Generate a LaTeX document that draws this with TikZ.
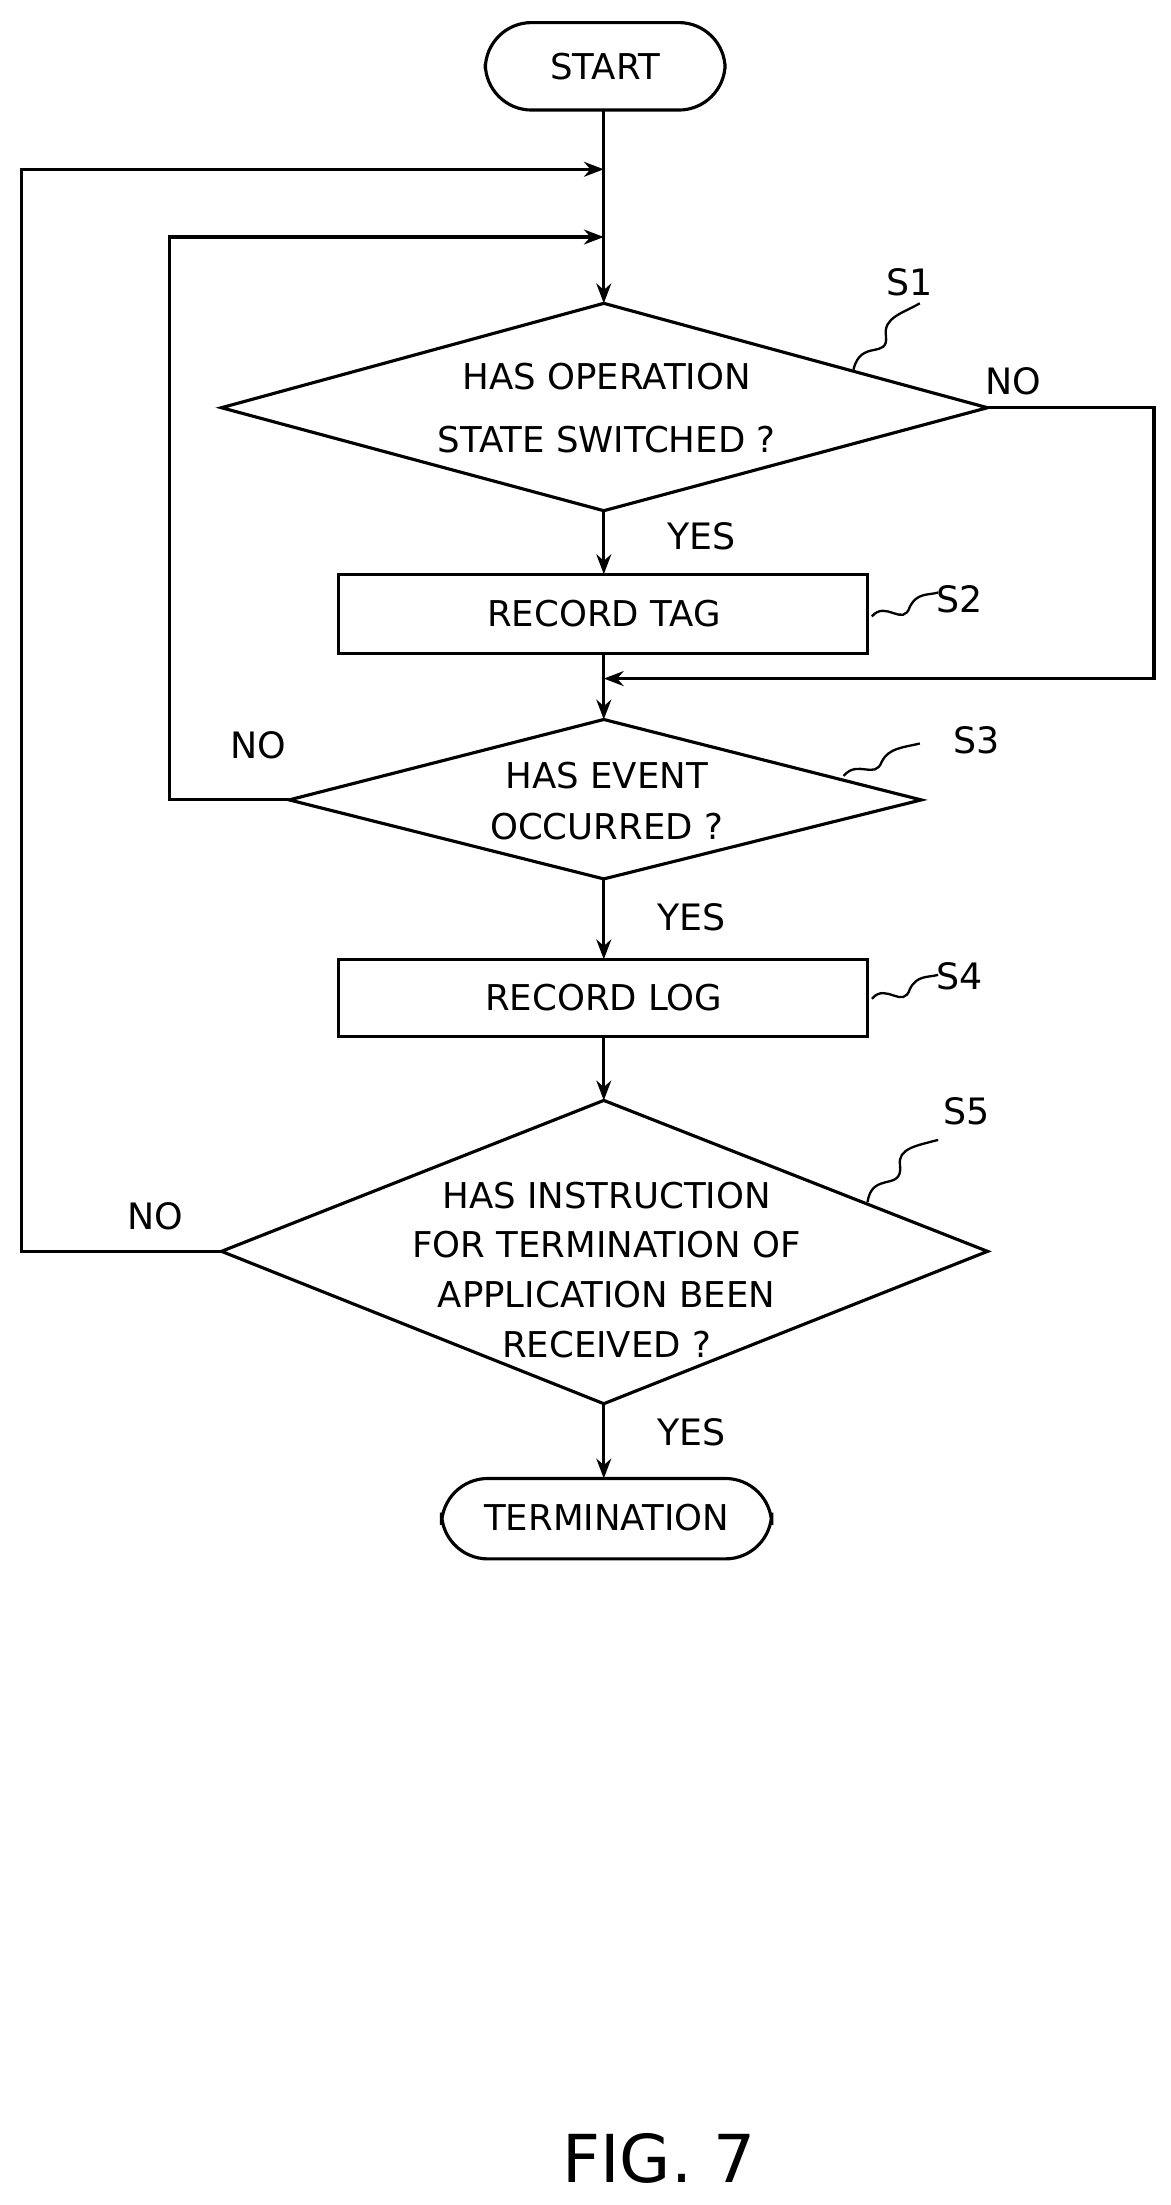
\documentclass[tikz,border=0pt]{standalone}
\usepackage{fontspec}
\setmainfont{DejaVu Sans}
\usetikzlibrary{arrows.meta}
\begin{document}
\begin{tikzpicture}[x=0.03cm,y=-0.03cm,
  line width=1.9pt,
  every node/.style={font=\fontsize{21.5}{31}\selectfont},
  arr/.style={-{Stealth[length=12pt,width=9pt]}},
  lbl/.style={font=\fontsize{22}{26}\selectfont},
  sq/.style={line width=1.4pt}]
\useasboundingbox (0,0) rectangle (830,1563);
% terminals
\draw[rounded corners=28] (344,16) rectangle (514,78);
\node (start) at (429,47) {START};
\coordinate (startb) at (428,78);
\draw[rounded corners=28] (313,1048) rectangle (547,1105);
\node (term) at (430,1076) {TERMINATION};
\coordinate (termt) at (428,1048);
% diamonds
\draw (428,215) -- (700,289) -- (428,362) -- (157,289) -- cycle;
\node[align=center,font=\fontsize{21.5}{38}\selectfont] (s1) at (430,289) {HAS OPERATION\\STATE SWITCHED ?};
\draw (428,510) -- (653,567) -- (428,623) -- (205,567) -- cycle;
\node[align=center] (s3) at (430,568) {HAS EVENT\\OCCURRED ?};
\draw (428,780) -- (700,887) -- (428,995) -- (157,887) -- cycle;
\node[align=center,font=\fontsize{21.5}{30}\selectfont] (s5) at (430,900) {HAS INSTRUCTION\\FOR TERMINATION OF\\APPLICATION BEEN\\RECEIVED ?};
% rects
\draw (240,407) rectangle (615,463);
\node (s2) at (428,435) {RECORD TAG};
\draw (240,680) rectangle (615,735);
\node (s4) at (428,707) {RECORD LOG};
% coordinates
\coordinate (s1t) at (428,215); \coordinate (s1b) at (428,362); \coordinate (s1r) at (700,289);
\coordinate (s2t) at (428,407); \coordinate (s2b) at (428,463);
\coordinate (s3t) at (428,510); \coordinate (s3b) at (428,623); \coordinate (s3l) at (205,567);
\coordinate (s4t) at (428,680); \coordinate (s4b) at (428,735);
\coordinate (s5t) at (428,780); \coordinate (s5b) at (428,995); \coordinate (s5l) at (157,887);
\coordinate (j1) at (428,120); \coordinate (j2) at (428,168); \coordinate (j3) at (428,481);
% main flow
\draw[arr] (startb) -- (s1t);
\draw[arr] (s1b) -- (s2t);
\draw[arr] (s2b) -- (s3t);
\draw[arr] (s3b) -- (s4t);
\draw[arr] (s4b) -- (s5t);
\draw[arr] (s5b) -- (termt);
% loops
\draw[arr] (s1r) -- (818,289) -- (818,481) -- (j3);
\draw[arr] (s3l) -- (120,567) -- (120,168) -- (j2);
\draw[arr] (s5l) -- (15,887) -- (15,120) -- (j1);
% labels
\node[lbl] at (718,270) {NO};
\node[lbl] at (497,380) {YES};
\node[lbl] at (183,528) {NO};
\node[lbl] at (490,650) {YES};
\node[lbl] at (110,862) {NO};
\node[lbl] at (490,1015) {YES};
\node[lbl] (l1) at (645,200) {S1};
\node[lbl] (l2) at (680,425) {S2};
\node[lbl] (l3) at (692,525) {S3};
\node[lbl] (l4) at (680,692) {S4};
\node[lbl] (l5) at (685,788) {S5};
% squiggles
\draw[sq] (605,262) .. controls (610,240) and (630,255) .. (628,238) .. controls (626,225) and (640,222) .. (652,215);
\draw[sq] (618,437) .. controls (628,425) and (640,445) .. (645,430) .. controls (650,420) and (658,422) .. (665,420);
\draw[sq] (598,550) .. controls (608,538) and (620,553) .. (625,540) .. controls (630,530) and (640,530) .. (652,527);
\draw[sq] (618,708) .. controls (628,696) and (640,716) .. (645,701) .. controls (650,691) and (658,693) .. (665,691);
\draw[sq] (615,852) .. controls (618,830) and (640,845) .. (638,826) .. controls (636,814) and (650,812) .. (665,808);
\node[font=\fontsize{40}{46}\selectfont] (fig) at (467,1530) {FIG. 7};
\end{tikzpicture}
\end{document}
